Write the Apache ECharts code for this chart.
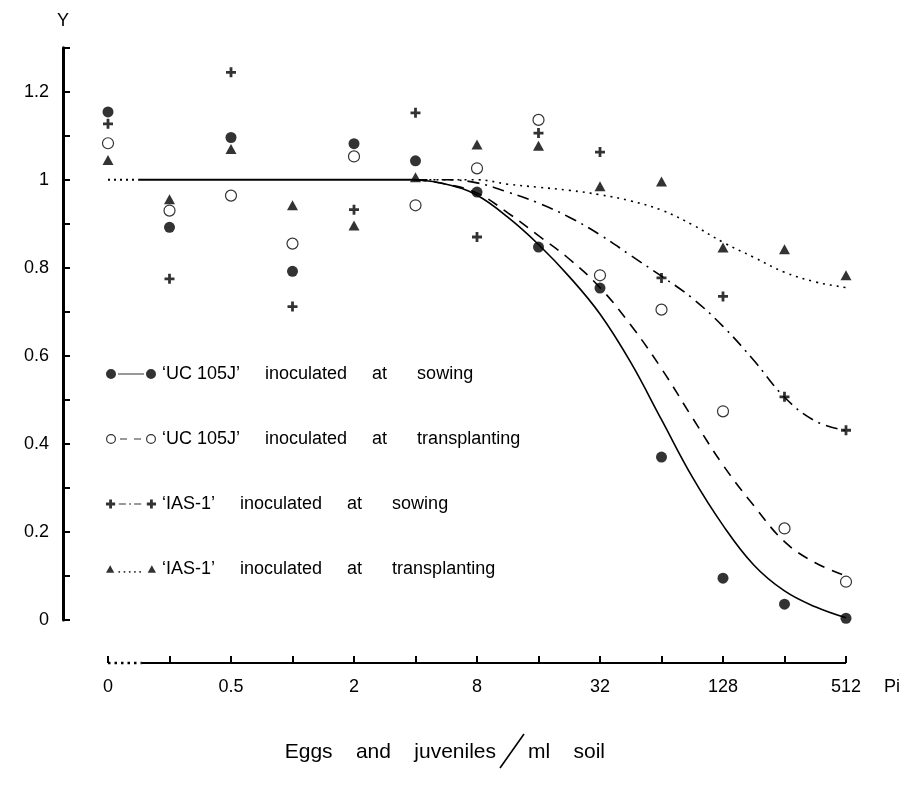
<!DOCTYPE html>
<html>
<head>
<meta charset="utf-8">
<title>Relative yield vs. nematode density</title>
<script src="https://cdn.jsdelivr.net/npm/echarts@6/dist/echarts.min.js"></script>
<style>
    html, body { margin: 0; padding: 0; background: #fff; }
    #yield_chart { width: 916px; height: 789px; }
</style>
</head>
<body>
<div id="yield_chart"></div>
<script>

// Data
// ------------------------------

// Initial densities (eggs and juveniles / ml soil), one per x position
var densities = [0, 0.25, 0.5, 1, 2, 4, 8, 16, 32, 64, 128, 256, 512];
var xTickLabels = ['0', '', '0.5', '', '2', '', '8', '', '32', '', '128', '', '512'];
var yTickLabels = { 0: '0', 2: '0.2', 4: '0.4', 6: '0.6', 8: '0.8', 10: '1', 12: '1.2' };

// Observed relative yields
var ucSowing = [1.154, 0.892, 1.096, 0.792, 1.082, 1.043, 0.972, 0.847, 0.754, 0.370, 0.095, 0.036, 0.004];
var ucTransplant = [1.083, 0.930, 0.964, 0.855, 1.053, 0.942, 1.026, 1.136, 0.783, 0.705, 0.474, 0.208, 0.087];
var iasSowing = [1.127, 0.775, 1.244, 0.712, 0.932, 1.152, 0.870, 1.106, 1.063, 0.777, 0.735, 0.507, 0.431];
var iasTransplant = [1.045, 0.956, 1.070, 0.942, 0.896, 1.006, 1.080, 1.077, 0.985, 0.996, 0.846, 0.842, 0.783];

// Fitted curves as [x position, yield]
var plateauDotted = [[0, 1], [0.5, 1]];
var plateauSolid = [[0.5, 1], [5, 1]];
var ucSowingFit = [[5, 1], [5.5, 0.99], [6, 0.965], [6.5, 0.915], [7, 0.853], [7.5, 0.78], [8, 0.695],
    [8.5, 0.585], [9, 0.455], [9.5, 0.325], [10, 0.215], [10.5, 0.125], [11, 0.066], [11.5, 0.03], [12, 0.005]];
var ucTransplantFit = [[5, 1], [5.5, 0.99], [6, 0.97], [6.5, 0.925], [7, 0.873], [7.5, 0.82], [8, 0.755],
    [8.5, 0.67], [9, 0.571], [9.5, 0.46], [10, 0.352], [10.5, 0.26], [11, 0.178], [11.5, 0.13], [12, 0.10]];
var iasSowingFit = [[5, 1], [5.5, 1], [6, 0.993], [6.5, 0.972], [7, 0.947], [7.5, 0.915], [8, 0.875],
    [8.5, 0.828], [9, 0.781], [9.5, 0.731], [10, 0.667], [10.5, 0.59], [11, 0.506], [11.5, 0.452], [12, 0.43]];
var iasTransplantFit = [[5, 1], [6, 1], [6.5, 0.99], [7, 0.983], [7.5, 0.976], [8, 0.966], [8.5, 0.952],
    [9, 0.931], [9.5, 0.898], [10, 0.858], [10.5, 0.824], [11, 0.79], [11.5, 0.768], [12, 0.755], [12.15, 0.752]];

var seriesNames = [
    '‘UC 105J’     inoculated     at      sowing',
    '‘UC 105J’     inoculated     at      transplanting',
    '‘IAS-1’     inoculated     at      sowing',
    '‘IAS-1’     inoculated     at      transplanting'
];


// Setup module
// ------------------------------

var EchartsNematodeYield = function() {

    // Pair a series of values with their x positions
    var toPoints = function(values) {
        return values.map(function(v, i) { return [i, v]; });
    };

    // Legend icons: marker, line pattern, marker (50 x 10 box)
    var dot = function(x) {
        return 'M' + x + ',5a5,5 0 1,0 10,0a5,5 0 1,0 -10,0z';
    };
    var ring = function(x) {
        return dot(x) + 'M' + (x + 1.2) + ',5a3.8,3.8 0 1,1 7.6,0a3.8,3.8 0 1,1 -7.6,0z';
    };
    var cross = function(x) {
        return 'M' + (x + 3.6) + ',0.5h2.8v3.1h3.1v2.8h-3.1v3.1h-2.8v-3.1h-3.1v-2.8h3.1z';
    };
    var tri = function(x) {
        return 'M' + (x + 1) + ',10L' + (x + 5) + ',3L' + (x + 9) + ',10z';
    };
    var iconFilled = 'path://' + dot(0) + 'M12,4.6h26v0.9h-26z' + dot(40);
    var iconOpen = 'path://' + ring(0) + 'M14,4.5h7v1h-7zM28,4.5h7v1h-7z' + ring(40);
    var iconPlus = 'path://' + cross(0) + 'M13,4.5h7v1h-7zM23,4.5h2v1h-2zM28,4.5h7v1h-7z' + cross(40);
    var iconTri = 'path://' + tri(0) + 'M13,8.5h1.5v1.5h-1.5zM18,8.5h1.5v1.5h-1.5zM23,8.5h1.5v1.5h-1.5zM28,8.5h1.5v1.5h-1.5zM33,8.5h1.5v1.5h-1.5z' + tri(40);

    var plusSymbol = 'path://M3.6,0h2.8v3.6h3.6v2.8h-3.6v3.6h-2.8v-3.6h-3.6v-2.8h3.6z';

    var fitLine = function(data, type, extra) {
        var s = {
            type: 'line',
            data: data,
            smooth: 0.4,
            showSymbol: false,
            silent: true,
            clip: false,
            lineStyle: { color: '#000', width: 1.6, type: type }
        };
        return Object.assign(s, extra || {});
    };

    var X_AXIS_OFFSET = 43;

    var _nematodeYieldChart = function() {
        if (typeof echarts == 'undefined') {
            console.warn('Warning - echarts.min.js is not loaded.');
            return;
        }

        // Define element
        var chart_element = document.getElementById('yield_chart');

        if (chart_element) {

            // Initialize chart
            var chart = echarts.init(chart_element, null, { renderer: 'canvas' });

            chart.setOption({

                animation: false,
                backgroundColor: '#fff',

                textStyle: {
                    fontFamily: '"Liberation Sans", Arial, sans-serif',
                    color: '#000'
                },

                grid: {
                    left: 108,
                    right: 70,
                    top: 47.7,
                    bottom: 169
                },

                legend: {
                    orient: 'vertical',
                    left: 101,
                    top: 360,
                    itemWidth: 50,
                    itemHeight: 10,
                    itemGap: 47,
                    selectedMode: false,
                    textStyle: { fontSize: 18, color: '#000', padding: [0, 0, 0, 1] },
                    data: [
                        { name: seriesNames[0], icon: iconFilled, itemStyle: { color: '#000', borderWidth: 0 } },
                        { name: seriesNames[1], icon: iconOpen, itemStyle: { color: '#000', borderWidth: 0 } },
                        { name: seriesNames[2], icon: iconPlus, itemStyle: { color: '#000', borderWidth: 0 } },
                        { name: seriesNames[3], icon: iconTri, itemStyle: { color: '#000', borderWidth: 0 } }
                    ]
                },

                // Horizontal axis (log2 spaced densities)
                xAxis: {
                    type: 'value',
                    min: 0,
                    max: 12,
                    interval: 1,
                    offset: X_AXIS_OFFSET,
                    name: 'Pi',
                    nameLocation: 'end',
                    nameGap: 38,
                    nameTextStyle: { fontSize: 18, color: '#000', verticalAlign: 'top', padding: [15, 0, 0, 0] },
                    splitLine: { show: false },
                    axisLine: { show: false, onZero: false },
                    axisTick: { show: true, inside: true, length: 7, lineStyle: { color: '#000', width: 2 } },
                    axisLabel: {
                        fontSize: 18,
                        color: '#000',
                        margin: 15,
                        formatter: function(v) { return xTickLabels[Math.round(v)] || ''; }
                    }
                },

                // Vertical axis
                yAxis: {
                    type: 'value',
                    min: 0,
                    max: 1.3,
                    interval: 0.1,
                    offset: 45,
                    name: 'Y',
                    nameLocation: 'end',
                    nameGap: 18,
                    nameTextStyle: { fontSize: 18, color: '#000' },
                    splitLine: { show: false },
                    axisLine: { show: true, onZero: false, lineStyle: { color: '#000', width: 3 } },
                    axisTick: { show: true, inside: true, length: 7, lineStyle: { color: '#000', width: 2 } },
                    axisLabel: {
                        fontSize: 18,
                        color: '#000',
                        margin: 14,
                        formatter: function(v) {
                            var k = Math.round(v * 10);
                            return yTickLabels[k] !== undefined ? yTickLabels[k] : '';
                        }
                    }
                },

                series: [

                    // Observed points
                    {
                        name: seriesNames[0],
                        type: 'scatter',
                        symbol: 'circle',
                        symbolSize: 11,
                        itemStyle: { color: '#000' },
                        data: toPoints(ucSowing),
                        z: 5
                    },
                    {
                        name: seriesNames[1],
                        type: 'scatter',
                        symbol: 'circle',
                        symbolSize: 11,
                        itemStyle: { color: '#fff', borderColor: '#000', borderWidth: 1.2 },
                        data: toPoints(ucTransplant),
                        z: 5
                    },
                    {
                        name: seriesNames[2],
                        type: 'scatter',
                        symbol: plusSymbol,
                        symbolSize: 10,
                        itemStyle: { color: '#000' },
                        data: toPoints(iasSowing),
                        z: 5
                    },
                    {
                        name: seriesNames[3],
                        type: 'scatter',
                        symbol: 'triangle',
                        symbolSize: [11, 10],
                        itemStyle: { color: '#000' },
                        data: toPoints(iasTransplant),
                        z: 5
                    },

                    // Fitted curves
                    fitLine(plateauDotted, [2, 4], { lineStyle: { color: '#000', width: 2, type: [2, 4] }, smooth: false }),
                    fitLine(plateauSolid, 'solid', { smooth: false, lineStyle: { color: '#000', width: 2 } }),
                    fitLine(ucSowingFit, 'solid'),
                    fitLine(ucTransplantFit, [11, 8]),
                    fitLine(iasSowingFit, [12, 6, 2, 6]),
                    fitLine(iasTransplantFit, [2, 5])
                ]
            });

            // Broken x axis line (dotted near 0) and the axis title,
            // placed from the axis scale
            var p0 = chart.convertToPixel({ gridIndex: 0 }, [0, 0]);
            var pBreak = chart.convertToPixel({ gridIndex: 0 }, [0.55, 0]);
            var pEnd = chart.convertToPixel({ gridIndex: 0 }, [12, 0]);
            var axisY = p0[1] + X_AXIS_OFFSET;
            var titleY = axisY + 89;
            var slashX = 512;

            chart.setOption({
                graphic: [
                    {
                        type: 'line',
                        shape: { x1: p0[0], y1: axisY, x2: pBreak[0], y2: axisY },
                        style: { stroke: '#000', lineWidth: 2.5, lineDash: [2.5, 4] },
                        silent: true
                    },
                    {
                        type: 'line',
                        shape: { x1: pBreak[0], y1: axisY, x2: pEnd[0], y2: axisY },
                        style: { stroke: '#000', lineWidth: 2 },
                        silent: true
                    },
                    {
                        type: 'text',
                        x: slashX - 16,
                        y: titleY,
                        style: {
                            text: 'Eggs    and    juveniles',
                            font: '21px "Liberation Sans", Arial, sans-serif',
                            fill: '#000',
                            align: 'right',
                            verticalAlign: 'middle'
                        },
                        silent: true
                    },
                    {
                        type: 'line',
                        shape: { x1: slashX - 12, y1: titleY + 16, x2: slashX + 12, y2: titleY - 18 },
                        style: { stroke: '#000', lineWidth: 1.6 },
                        silent: true
                    },
                    {
                        type: 'text',
                        x: slashX + 16,
                        y: titleY,
                        style: {
                            text: 'ml    soil',
                            font: '21px "Liberation Sans", Arial, sans-serif',
                            fill: '#000',
                            align: 'left',
                            verticalAlign: 'middle'
                        },
                        silent: true
                    }
                ]
            });
        }
    };

    return {
        init: function() {
            _nematodeYieldChart();
        }
    }
}();


// Initialize module
// ------------------------------

document.addEventListener('DOMContentLoaded', function() {
    EchartsNematodeYield.init();
});
</script>
</body>
</html>
